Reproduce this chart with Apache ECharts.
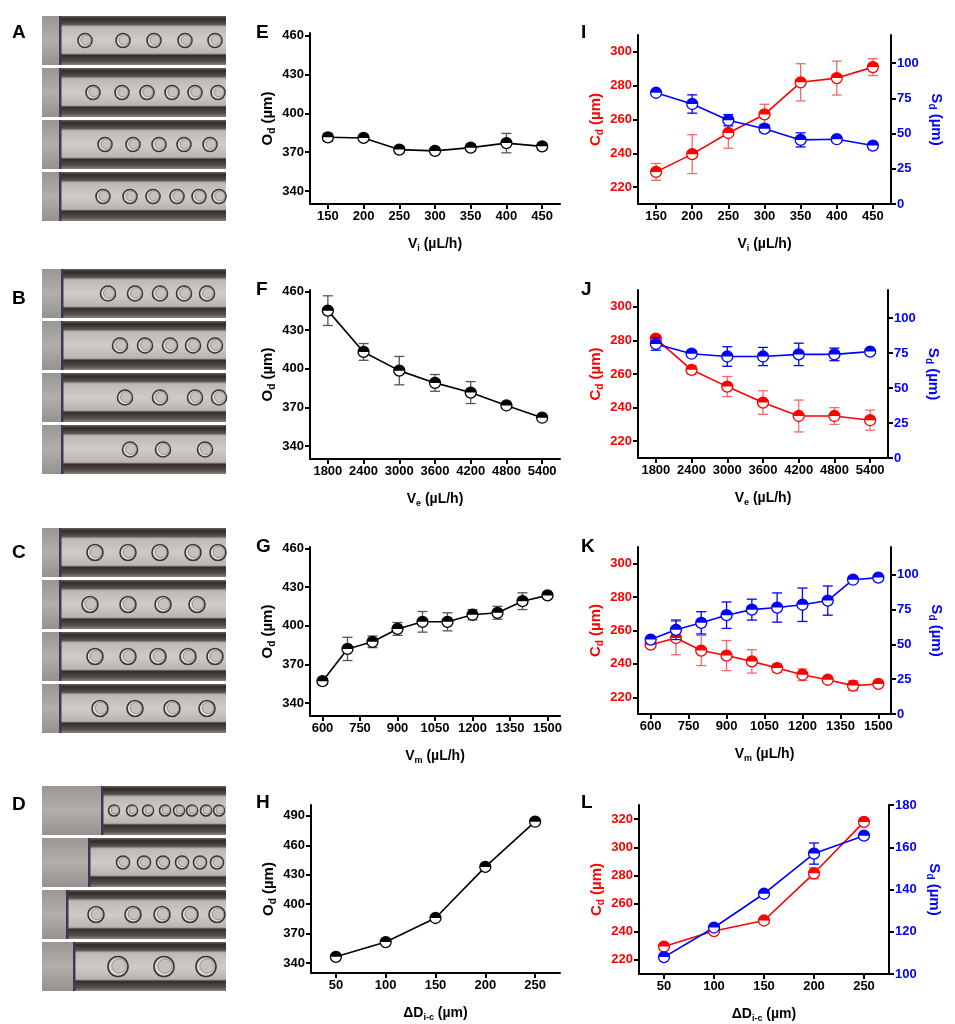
<!DOCTYPE html>
<html>
<head>
<meta charset="utf-8">
<script src="https://cdn.jsdelivr.net/npm/echarts@6.0.0/dist/echarts.min.js"></script>
<style>
html,body{margin:0;padding:0;background:#fff;}
#main{width:955px;height:1024px;}
</style>
</head>
<body>
<div id="main"></div>
<script>
// ---- data ----
// E : Od vs Vi
var eX = [150, 200, 250, 300, 350, 400, 450];
var eOd = [381.5, 381, 372, 371, 373.5, 377, 374.5];
var eOdErr = [3, 2.5, 2.5, 2.5, 2.5, 7.5, 2.5];
// F : Od vs Ve
var fX = [1800, 2400, 3000, 3600, 4200, 4800, 5400];
var fOd = [445, 413, 398.5, 389, 381.5, 371.5, 362];
var fOdErr = [11.5, 6.5, 11, 6.5, 8.5, 1.5, 1];
// G : Od vs Vm
var gX = [600, 700, 800, 900, 1000, 1100, 1200, 1300, 1400, 1500];
var gOd = [357, 382, 387.5, 397.5, 403, 403, 408.5, 410, 419, 423.5];
var gOdErr = [1, 9, 4.5, 5, 8, 7, 4, 5, 6.5, 1];
// H : Od vs dDi-c
var hX = [50, 100, 150, 200, 250];
var hOd = [346.5, 361.5, 386, 438, 484];
var hOdErr = [0, 0, 0, 0, 0];
// I : Cd / Sd vs Vi
var iCd = [229, 239.5, 252, 263, 282, 284.5, 291];
var iCdErr = [5, 11.5, 9, 6, 11, 10, 5];
var iSd = [79, 71, 59.5, 53.5, 45.5, 46, 41.5];
var iSdErr = [1.5, 6.5, 4, 2.5, 5, 1, 1];
// J : Cd / Sd vs Ve
var jCd = [281, 262.5, 252.5, 243, 235, 235, 232.5];
var jCdErr = [1.5, 2.5, 6, 7, 9.5, 5, 6];
var jSd = [81.5, 74.5, 72.5, 72.5, 74, 74, 76];
var jSdErr = [4.5, 1, 7, 6.5, 8, 4.5, 1];
// K : Cd / Sd vs Vm
var kCd = [251.5, 255.5, 248, 245, 241.5, 237.5, 233.5, 230.5, 227, 228];
var kCdErr = [1, 10, 9, 9, 7, 2.5, 3.5, 1, 3, 1];
var kSd = [53.5, 60.5, 65.5, 71, 75, 76.5, 78.5, 81.5, 96.5, 98];
var kSdErr = [1, 7, 8, 9.5, 7.5, 10.5, 12, 10.5, 1, 1];
// L : Cd / Sd vs dDi-c
var lCd = [229.5, 240.5, 248, 281.5, 318];
var lCdErr = [0, 0, 0, 4, 2];
var lSd = [108, 122, 138, 157, 165.5];
var lSdErr = [0, 0, 0, 5, 0];

// tick labels
var viTicks = [150, 200, 250, 300, 350, 400, 450];
var veTicks = [1800, 2400, 3000, 3600, 4200, 4800, 5400];
var vmTicks = [600, 750, 900, 1050, 1200, 1350, 1500];
var dTicks = [50, 100, 150, 200, 250];
var odTicks = [340, 370, 400, 430, 460];
var odTicksH = [340, 370, 400, 430, 460, 490];
var cdTicks = [220, 240, 260, 280, 300];
var cdTicksL = [220, 240, 260, 280, 300, 320];
var sdTicks = [0, 25, 50, 75, 100];
var sdTicksL = [100, 120, 140, 160, 180];

// droplets seen in the photo strips (x inside each strip)
var dropsA = [[43, 81, 112, 143, 173], [51, 80, 105, 130, 153, 176], [63, 91, 117, 142, 168], [61, 88, 111, 135, 157, 177]];
var dropsB = [[66, 93, 118, 142, 165], [78, 103, 128, 151, 173], [83, 118, 153, 177], [88, 121, 163]];
var dropsC = [[53, 86, 118, 151, 176], [48, 86, 121, 155], [53, 86, 116, 146, 173], [58, 93, 130, 165]];
var dropsD = [[72, 90, 106, 123, 137, 150, 164, 177], [81, 102, 121, 140, 158, 175], [54, 91, 120, 148, 175], [76, 122, 164]];

var FONT = '"Liberation Sans", Arial, sans-serif';
var myChart = echarts.init(document.getElementById('main'));

var grids = [], xAxes = [], yAxes = [], series = [], graphics = [];

function richName(main, sub, rest, color, size) {
    return {
        text: '{m|' + main + '}{s|' + sub + '}{m|' + rest + '}',
        style: {
            rich: {
                m: {fontSize: size, fontWeight: 'bold', color: color, fontFamily: FONT, lineHeight: size + 4},
                s: {fontSize: size - 5, fontWeight: 'bold', color: color, fontFamily: FONT, verticalAlign: 'bottom', lineHeight: size + 4}
            }
        }
    };
}

function errRender(color, barColor) {
    return function (params, api) {
        var x = api.value(0), y = api.value(1), e = api.value(2);
        var p = api.coord([x, y]);
        var ch = [];
        if (e > 0) {
            var t = api.coord([x, y + e]), b = api.coord([x, y - e]);
            var ls = {stroke: barColor, lineWidth: 1.3};
            ch.push({type: 'line', shape: {x1: p[0], y1: t[1], x2: p[0], y2: b[1]}, style: ls});
            ch.push({type: 'line', shape: {x1: p[0] - 5, y1: t[1], x2: p[0] + 5, y2: t[1]}, style: ls});
            ch.push({type: 'line', shape: {x1: p[0] - 5, y1: b[1], x2: p[0] + 5, y2: b[1]}, style: ls});
        }
        ch.push({type: 'circle', shape: {cx: p[0], cy: p[1], r: 5.5}, style: {fill: '#fff', stroke: color, lineWidth: 1.3}});
        ch.push({type: 'sector', shape: {cx: p[0], cy: p[1], r0: 0, r: 5.5, startAngle: Math.PI, endAngle: 2 * Math.PI, clockwise: true}, style: {fill: color}});
        return {type: 'group', children: ch};
    };
}

function addData(xi, yi, xs, ys, errs, color, barColor) {
    series.push({
        type: 'line', xAxisIndex: xi, yAxisIndex: yi, symbol: 'none', z: 2,
        data: xs.map(function (x, i) { return [x, ys[i]]; }),
        lineStyle: {color: color, width: 1.6}
    });
    series.push({
        type: 'custom', xAxisIndex: xi, yAxisIndex: yi, z: 3,
        encode: {x: 0, y: 1},
        data: xs.map(function (x, i) { return [x, ys[i], errs[i]]; }),
        renderItem: errRender(color, barColor)
    });
}

function valueAxis(gi, extra) {
    var ax = {
        gridIndex: gi, type: 'value',
        splitLine: {show: false},
        axisLine: {show: true, onZero: false, lineStyle: {color: '#000', width: 2}},
        axisTick: {show: true, length: 5, lineStyle: {color: '#000', width: 2}},
        axisLabel: {fontSize: 13, fontWeight: 'bold', fontFamily: FONT, color: '#000', margin: 6,
            formatter: function (v) { return String(v); }},
        nameLocation: 'middle'
    };
    for (var k in extra) {
        if (k === 'ticks') {
            ax.axisLabel.customValues = extra.ticks;
            ax.axisTick.customValues = extra.ticks;
        } else if (k === 'labelColor') {
            ax.axisLabel.color = extra.labelColor;
        } else if (k === 'nm') {
            ax.name = extra.nm.text;
            ax.nameTextStyle = extra.nm.style;
        } else {
            ax[k] = extra[k];
        }
    }
    return ax;
}

function addPanel(box, xCfg, yCfg, y2Cfg) {
    var gi = grids.length;
    grids.push({left: box[0], top: box[1], width: box[2], height: box[3]});
    xCfg.nameGap = 31;
    xAxes.push(valueAxis(gi, xCfg));
    yCfg.nameGap = 33;
    yCfg.nameRotate = 90;
    yAxes.push(valueAxis(gi, yCfg));
    var res = {x: xAxes.length - 1, y: yAxes.length - 1};
    if (y2Cfg) {
        y2Cfg.position = 'right';
        y2Cfg.nameGap = 36;
        y2Cfg.nameRotate = -90;
        yAxes.push(valueAxis(gi, y2Cfg));
        res.y2 = yAxes.length - 1;
    }
    return res;
}

var RED = '#ff0000', BLUE = '#0000ff';
var od = richName('O', 'd', ' (\u00b5m)', '#000', 15);
var cd = richName('C', 'd', ' (\u00b5m)', RED, 15);
var sd = richName('S', 'd', ' (\u00b5m)', BLUE, 15);
var viN = richName('V', 'i', ' (\u00b5L/h)', '#000', 14);
var veN = richName('V', 'e', ' (\u00b5L/h)', '#000', 14);
var vmN = richName('V', 'm', ' (\u00b5L/h)', '#000', 14);
var dN = richName('\u0394D', 'i-c', ' (\u00b5m)', '#000', 14);

// left column of plots
var pE = addPanel([310, 33, 250, 171], {min: 125, max: 475, ticks: viTicks, nm: viN}, {min: 330, max: 462, ticks: odTicks, nm: od});
addData(pE.x, pE.y, eX, eOd, eOdErr, '#000', '#555');
var pF = addPanel([310, 290, 250, 169], {min: 1500, max: 5700, ticks: veTicks, nm: veN}, {min: 330, max: 461, ticks: odTicks, nm: od});
addData(pF.x, pF.y, fX, fOd, fOdErr, '#000', '#555');
var pG = addPanel([310, 547, 250, 169], {min: 550, max: 1550, ticks: vmTicks, nm: vmN}, {min: 330, max: 461, ticks: odTicks, nm: od});
addData(pG.x, pG.y, gX, gOd, gOdErr, '#000', '#555');
var pH = addPanel([311, 805, 249, 168], {min: 25, max: 275, ticks: dTicks, nm: dN}, {min: 330, max: 501, ticks: odTicksH, nm: od});
addData(pH.x, pH.y, hX, hOd, hOdErr, '#000', '#555');

// right column, two y axes
var pI = addPanel([638, 35, 253, 169], {min: 125, max: 475, ticks: viTicks, nm: viN},
    {min: 210, max: 310, ticks: cdTicks, labelColor: RED, nm: cd},
    {min: 0, max: 120, ticks: sdTicks, labelColor: BLUE, nm: sd});
addData(pI.x, pI.y, eX, iCd, iCdErr, RED, '#f26b6b');
addData(pI.x, pI.y2, eX, iSd, iSdErr, BLUE, BLUE);
var pJ = addPanel([638, 290, 250, 168], {min: 1500, max: 5700, ticks: veTicks, nm: veN},
    {min: 210, max: 310, ticks: cdTicks, labelColor: RED, nm: cd},
    {min: 0, max: 120, ticks: sdTicks, labelColor: BLUE, nm: sd});
addData(pJ.x, pJ.y, fX, jCd, jCdErr, RED, '#f26b6b');
addData(pJ.x, pJ.y2, fX, jSd, jSdErr, BLUE, BLUE);
var pK = addPanel([638, 547, 253, 167], {min: 550, max: 1550, ticks: vmTicks, nm: vmN},
    {min: 210, max: 310, ticks: cdTicks, labelColor: RED, nm: cd},
    {min: 0, max: 120, ticks: sdTicks, labelColor: BLUE, nm: sd});
addData(pK.x, pK.y, gX, kCd, kCdErr, RED, '#f26b6b');
addData(pK.x, pK.y2, gX, kSd, kSdErr, BLUE, BLUE);
var pL = addPanel([639, 805, 250, 169], {min: 25, max: 275, ticks: dTicks, nm: dN},
    {min: 210, max: 330, ticks: cdTicksL, labelColor: RED, nm: cd},
    {min: 100, max: 180, ticks: sdTicksL, labelColor: BLUE, nm: sd});
addData(pL.x, pL.y, hX, lCd, lCdErr, RED, '#f26b6b');
addData(pL.x, pL.y2, hX, lSd, lSdErr, BLUE, BLUE);

// photo strips (A-D), drawn as simple shapes
var photoGroups = [
    {tops: [16, 68, 120, 172], tips: [18, 18, 18, 18], r: [7, 7, 7, 7], drops: dropsA},
    {tops: [269, 321, 373, 425], tips: [20, 20, 20, 20], r: [7.5, 7.5, 7.5, 7.5], drops: dropsB},
    {tops: [528, 580, 632, 684], tips: [18, 18, 18, 18], r: [8, 8, 8, 8], drops: dropsC},
    {tops: [786, 838, 890, 942], tips: [60, 47, 25, 32], r: [5.5, 6.5, 8, 10], drops: dropsD}
];
var PX = 42, PW = 184, PH = 49;
photoGroups.forEach(function (g) {
    g.tops.forEach(function (top, s) {
        var tip = g.tips[s];
        graphics.push({type: 'rect', shape: {x: PX, y: top, width: PW, height: PH},
            style: {fill: new echarts.graphic.LinearGradient(0, 0, 0, 1, [
                {offset: 0, color: '#9a9694'}, {offset: 0.5, color: '#b2aeac'}, {offset: 1, color: '#95918f'}])}});
        graphics.push({type: 'rect', shape: {x: PX + tip, y: top, width: PW - tip, height: PH},
            style: {fill: new echarts.graphic.LinearGradient(0, 0, 0, 1, [
                {offset: 0, color: '#6a6460'}, {offset: 0.06, color: '#2e2926'}, {offset: 0.17, color: '#5a544f'},
                {offset: 0.22, color: '#bcb8b4'}, {offset: 0.5, color: '#cfccc8'}, {offset: 0.76, color: '#b8b4b0'},
                {offset: 0.8, color: '#332e2b'}, {offset: 0.93, color: '#57514d'}, {offset: 1, color: '#8a8480'}])}});
        graphics.push({type: 'rect', shape: {x: PX + tip - 1, y: top, width: 2.5, height: PH},
            style: {fill: '#3b3a55'}});
        g.drops[s].forEach(function (dx) {
            var r = g.r[s];
            graphics.push({type: 'circle', shape: {cx: PX + dx, cy: top + PH / 2, r: r},
                style: {fill: '#dcd8d3', stroke: '#3a3531', lineWidth: 1.6}});
            graphics.push({type: 'circle', shape: {cx: PX + dx + 1, cy: top + PH / 2 - 0.5, r: r * 0.72},
                style: {fill: '#c6c1bc', stroke: '#8d8781', lineWidth: 0.8}});
        });
    });
});

// panel letters
var letters = [['A', 12, 23], ['B', 12, 289], ['C', 12, 543], ['D', 12, 795],
    ['E', 256, 23], ['F', 256, 280], ['G', 256, 537], ['H', 256, 793],
    ['I', 581, 23], ['J', 581, 280], ['K', 581, 537], ['L', 581, 793]];
letters.forEach(function (l) {
    graphics.push({type: 'text', left: l[1], top: l[2],
        style: {text: l[0], font: 'bold 19px ' + FONT, fill: '#000'}});
});

var option = {
    animation: false,
    backgroundColor: '#fff',
    textStyle: {fontFamily: FONT},
    grid: grids,
    xAxis: xAxes,
    yAxis: yAxes,
    series: series,
    graphic: graphics
};
myChart.setOption(option);
</script>
</body>
</html>
